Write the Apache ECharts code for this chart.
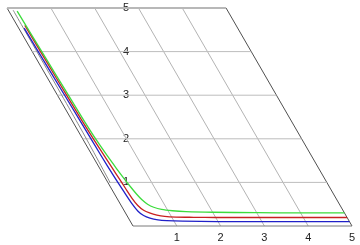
<!DOCTYPE html>
<html>
<head>
<meta charset="utf-8">
<script src="https://cdn.jsdelivr.net/npm/echarts@6/dist/echarts.min.js"></script>
<style>html,body{margin:0;padding:0;background:#fff;}#c{width:360px;height:245px;}</style>
</head>
<body>
<div id="c"></div>
<script>
// axis ticks
const xTicks = [0, 1, 2, 3, 4, 5];
const yTicks = [0, 1, 2, 3, 4, 5];
const xTickLabels = ['', '1', '2', '3', '4', '5'];
const yTickLabels = ['', '1', '2', '3', '4', '5'];

// curves (x, y)
const greenX = [0.19, 0.22, 0.25, 0.27, 0.3, 0.34, 0.38, 0.42, 0.46, 0.5, 0.55, 0.62, 0.72, 0.87, 1.1, 1.4, 2, 3, 4, 5];
const greenY = [4.93, 3.9, 3.0, 2.43, 1.95, 1.6, 1.33, 1.1, 0.9, 0.74, 0.6, 0.5, 0.43, 0.38, 0.35, 0.33, 0.315, 0.305, 0.3, 0.3];

const redX = [0.175, 0.2, 0.225, 0.26, 0.29, 0.31, 0.325, 0.345, 0.38, 0.45, 0.55, 0.69, 0.85, 1.1, 1.5, 2, 3, 4, 5];
const redY = [4.6, 3.4, 2.43, 1.75, 1.35, 1.08, 0.86, 0.63, 0.47, 0.36, 0.3, 0.25, 0.22, 0.205, 0.2, 0.195, 0.195, 0.195, 0.195];

const blueX = [0.125, 0.15, 0.18, 0.2, 0.22, 0.245, 0.27, 0.31, 0.38, 0.49, 0.65, 0.84, 1.2, 2, 3, 4, 5];
const blueY = [4.54, 3.5, 2.43, 1.6, 1.15, 0.8, 0.52, 0.34, 0.24, 0.18, 0.14, 0.122, 0.11, 0.1, 0.1, 0.1, 0.1];

const innerEdgeX = [0.11, 0.09, 0.05];
const innerEdgeY = [4.95, 2.2, 1.0];

const SKEW = 0.575;
function sk(x, y) { return [x - SKEW * y, y]; }

function curveSeries(name, xs, ys, color, width) {
  const data = xs.map((x, i) => [x, ys[i]]);
  return {
    type: 'custom', name: name, z: 5, silent: true, clip: false,
    data: data, encode: { x: 0, y: 1 },
    renderItem: function (params, api) {
      if (params.dataIndex !== 0) return null;
      const pts = data.map(p => api.coord(sk(p[0], p[1])));
      return { type: 'polyline', shape: { points: pts, smooth: 0.25 },
        style: { stroke: color, lineWidth: width, fill: null } };
    }
  };
}

const yMin = yTicks[0], yMax = yTicks[yTicks.length - 1];
const xMin = xTicks[0], xMax = xTicks[xTicks.length - 1];

const xLineSeries = {
  type: 'custom', z: 1, silent: true, clip: false,
  data: xTicks.map(v => [v, 0]), encode: { x: 0, y: 1 },
  renderItem: function (params, api) {
    const v = xTicks[params.dataIndex];
    const a = api.coord(sk(v, yMin)), b = api.coord(sk(v, yMax));
    const edge = (v === xMin || v === xMax);
    return { type: 'line', shape: { x1: a[0], y1: a[1], x2: b[0], y2: b[1] },
      style: { stroke: edge ? '#505050' : '#b4b4b4', lineWidth: 1 } };
  }
};
const yLineSeries = {
  type: 'custom', z: 1, silent: true, clip: false,
  data: yTicks.map(v => [0, v]), encode: { x: 0, y: 1 },
  renderItem: function (params, api) {
    const v = yTicks[params.dataIndex];
    const a = api.coord(sk(xMin, v)), b = api.coord(sk(xMax, v));
    let stroke = '#bdbdbd', w = 1;
    if (v === yMax) { stroke = '#b8b8b8'; w = 2; }
    if (v === yMin) { stroke = '#7a7a7a'; w = 1; }
    return { type: 'line', shape: { x1: a[0], y1: a[1], x2: b[0], y2: b[1] },
      style: { stroke: stroke, lineWidth: w } };
  }
};

const chart = echarts.init(document.getElementById('c'), null, { renderer: 'canvas' });
chart.setOption({
  animation: false,
  backgroundColor: '#fff',
  grid: { left: 133, right: 8, top: 8, bottom: 19 },
  xAxis: {
    type: 'value', min: xMin, max: xMax, interval: 1,
    axisLine: { show: false }, axisTick: { show: false }, splitLine: { show: false },
    axisLabel: { margin: 6, fontSize: 11, color: '#222', fontFamily: 'Liberation Sans, Arial, sans-serif',
      formatter: v => xTickLabels[xTicks.indexOf(v)] || '' }
  },
  yAxis: {
    type: 'value', min: yMin, max: yMax, interval: 1,
    axisLine: { show: false }, axisTick: { show: false }, splitLine: { show: false },
    axisLabel: { margin: 4, fontSize: 11, color: '#222', fontFamily: 'Liberation Sans, Arial, sans-serif',
      formatter: v => yTickLabels[yTicks.indexOf(v)] || '' }
  },
  series: [
    xLineSeries,
    yLineSeries,
    curveSeries('edge', innerEdgeX, innerEdgeY, '#8a8a8a', 1),
    curveSeries('blue', blueX, blueY, '#2020c8', 1.3),
    curveSeries('red', redX, redY, '#c82020', 1.3),
    curveSeries('green', greenX, greenY, '#3cdc3c', 1.3)
  ]
});
</script>
</body>
</html>
